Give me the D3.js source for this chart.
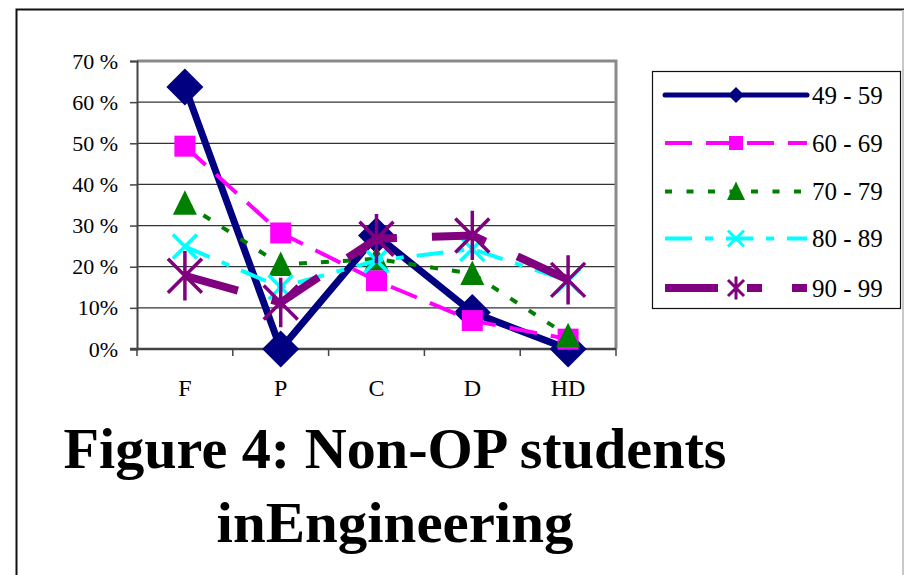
<!DOCTYPE html>
<html>
<head>
<meta charset="utf-8">
<script src="https://cdn.jsdelivr.net/npm/d3@7"></script>
<style>
  html, body { margin: 0; padding: 0; background: #fff; }
  svg { display: block; }
  svg text { font-family: "Liberation Serif", "Times New Roman", serif; }
</style>
</head>
<body>
<svg id="chart" width="904" height="575"></svg>
<script>
// Grade bands (x axis) and share of students per mark range
const categories = ["F", "P", "C", "D", "HD"];
const seriesNames = ["49 - 59", "60 - 69", "70 - 79", "80 - 89", "90 - 99"];
const range4959 = [0.637, 0.000, 0.276, 0.089, 0.000];
const range6069 = [0.493, 0.282, 0.166, 0.069, 0.024];
const range7079 = [0.354, 0.205, 0.219, 0.183, 0.032];
const range8089 = [0.249, 0.150, 0.215, 0.243, 0.166];
const range9099 = [0.178, 0.113, 0.268, 0.276, 0.168];
const yTicks = [0, 0.1, 0.2, 0.3, 0.4, 0.5, 0.6, 0.7];
const yTickLabels = ["0%", "10%", "20 %", "30 %", "40 %", "50 %", "60 %", "70 %"];
const titleLines = ["Figure 4: Non-OP students", "inEngineering"];

const seriesValues = [range4959, range6069, range7079, range8089, range9099];

const SERIF = "Liberation Serif";

// Visual style per series
const styles = [
  { color: "#000080", width: 7, dash: null, legendWidth: 5, legendDash: null, marker: "diamond", cap: "round" },
  { color: "#FF00FF", width: 4, dash: "28,14", legendWidth: 4, legendDash: "27,14", marker: "square", cap: "butt" },
  { color: "#008000", width: 4, dash: "8,14", legendWidth: 4, legendDash: "7,14.5", marker: "triangle", cap: "butt" },
  { color: "#00FFFF", width: 4, dash: "27,13,8,13", legendWidth: 4, legendDash: "27,13,8,13", marker: "x", cap: "butt" },
  { color: "#800080", width: 8, dash: "55,35", legendWidth: 8, legendDash: "53,29,15,30,15", marker: "star", cap: "butt" }
];

const svg = d3.select("#chart");

// Outer frame
svg.append("rect").attr("x", 16.5).attr("y", 9.5).attr("width", 887).attr("height", 600)
  .attr("fill", "none").attr("stroke", "#111").attr("stroke-width", 2);
svg.append("line").attr("x1", 903).attr("x2", 903).attr("y1", 10).attr("y2", 575)
  .attr("stroke", "#c8c8c8").attr("stroke-width", 2);

const plot = { left: 137, right: 616, top: 61, bottom: 349 };

const x = d3.scaleBand().domain(categories).range([plot.left, plot.right]);
const cx = c => x(c) + x.bandwidth() / 2;
const y = d3.scaleLinear().domain([0, 0.7]).range([plot.bottom, plot.top]);

// Gridlines
svg.append("g").selectAll("line").data(yTicks.filter(t => t > 0 && t < 0.7)).join("line")
  .attr("x1", plot.left).attr("x2", plot.right)
  .attr("y1", d => y(d)).attr("y2", d => y(d))
  .attr("stroke", "#333").attr("stroke-width", 1.3);

// Plot border: grey top and right edges
svg.append("path")
  .attr("d", `M${plot.left},${plot.top} H${plot.right} V${plot.bottom}`)
  .attr("fill", "none").attr("stroke", "#8a8a8a").attr("stroke-width", 3);

// Y axis
const yAxis = d3.axisLeft(y).tickValues(yTicks).tickSize(7).tickPadding(12)
  .tickFormat((d, i) => yTickLabels[i]);
const gy = svg.append("g").attr("transform", `translate(${plot.left},0)`).call(yAxis)
  .attr("font-family", SERIF).attr("font-size", 22);
gy.select(".domain").attr("stroke", "#444").attr("stroke-width", 2);
gy.selectAll(".tick line").attr("stroke", "#444").attr("stroke-width", 1.5);
gy.selectAll(".tick text").attr("font-size", 22).attr("font-family", SERIF).attr("fill", "#000");

// X axis: ticks at band boundaries, labels at band centres
const gx = svg.append("g");
gx.append("line").attr("x1", plot.left - 7).attr("x2", plot.right)
  .attr("y1", plot.bottom).attr("y2", plot.bottom)
  .attr("stroke", "#444").attr("stroke-width", 2.5);
const boundaries = categories.map(c => x(c)).concat([plot.right]);
gx.selectAll("line.tk").data(boundaries).join("line").attr("class", "tk")
  .attr("x1", d => d).attr("x2", d => d)
  .attr("y1", plot.bottom).attr("y2", plot.bottom + 7)
  .attr("stroke", "#444").attr("stroke-width", 1.5);
gx.selectAll("text").data(categories).join("text")
  .attr("x", d => cx(d)).attr("y", 396)
  .attr("text-anchor", "middle").attr("font-size", 24).attr("font-family", SERIF).attr("fill", "#000")
  .text(d => d);

// Marker shapes
function markerPath(kind, s) {
  switch (kind) {
    case "diamond": return `M0,${-s}L${s},0L0,${s}L${-s},0Z`;
    case "square": return `M${-s},${-s}H${s}V${s}H${-s}Z`;
    case "triangle": return `M0,${-s * 1.1}L${s},${s * 0.95}L${-s},${s * 0.95}Z`;
    case "x": return `M${-s},${-s}L${s},${s}M${-s},${s}L${s},${-s}`;
    case "star": return `M${-s},${-s}L${s},${s}M${-s},${s}L${s},${-s}M0,${-s * 1.45}V${s * 1.45}`;
  }
}
const plotMarkerSize = { diamond: 18.5, square: 10.5, triangle: 12, x: 12, star: 17 };
const legendMarkerSize = { diamond: 8, square: 7, triangle: 9, x: 8, star: 8 };

function drawMarker(g, kind, color, size, strokeW) {
  const p = g.append("path").attr("d", markerPath(kind, size));
  if (kind === "x" || kind === "star") {
    p.attr("fill", "none").attr("stroke", color).attr("stroke-width", strokeW);
  } else {
    p.attr("fill", color).attr("stroke", "none");
  }
}

const line = d3.line().x(d => cx(d.cat)).y(d => y(d.v));

seriesValues.forEach((vals, si) => {
  const st = styles[si];
  const pts = vals.map((v, i) => ({ cat: categories[i], v }));
  const g = svg.append("g");
  g.append("path").datum(pts).attr("d", line)
    .attr("fill", "none").attr("stroke", st.color).attr("stroke-width", st.width)
    .attr("stroke-linejoin", "round").attr("stroke-linecap", st.cap)
    .attr("stroke-dasharray", st.dash);
  pts.forEach(p => {
    const mg = g.append("g").attr("transform", `translate(${cx(p.cat)},${y(p.v)})`);
    drawMarker(mg, st.marker, st.color, plotMarkerSize[st.marker], 3.5);
  });
});

// Legend
const legend = svg.append("g");
legend.append("rect").attr("x", 652.5).attr("y", 71.5).attr("width", 248).attr("height", 237)
  .attr("fill", "#fff").attr("stroke", "#111").attr("stroke-width", 1.2);
const rowY = [95, 143, 191.5, 238.5, 288];
seriesNames.forEach((name, i) => {
  const st = styles[i];
  const g = legend.append("g").attr("transform", `translate(0,${rowY[i]})`);
  g.append("line").attr("x1", 665).attr("x2", 807).attr("y1", 0).attr("y2", 0)
    .attr("stroke", st.color).attr("stroke-width", st.legendWidth)
    .attr("stroke-linecap", st.cap).attr("stroke-dasharray", st.legendDash);
  const mg = g.append("g").attr("transform", "translate(736,0)");
  drawMarker(mg, st.marker, st.color, legendMarkerSize[st.marker], 3);
  g.append("text").attr("x", 812).attr("y", 0).attr("dy", "0.35em")
    .attr("font-size", 25).attr("font-family", SERIF).attr("fill", "#000").text(name);
});

// Title
const titleBaselines = [468, 542];
const titleWidths = [663, 357];
svg.append("g").selectAll("text").data(titleLines).join("text")
  .attr("x", 395).attr("y", (d, i) => titleBaselines[i])
  .attr("text-anchor", "middle").attr("font-size", 57).attr("font-weight", "bold")
  .attr("font-family", SERIF).attr("fill", "#000")
  .attr("textLength", (d, i) => titleWidths[i]).attr("lengthAdjust", "spacingAndGlyphs")
  .text(d => d);
</script>
</body>
</html>
